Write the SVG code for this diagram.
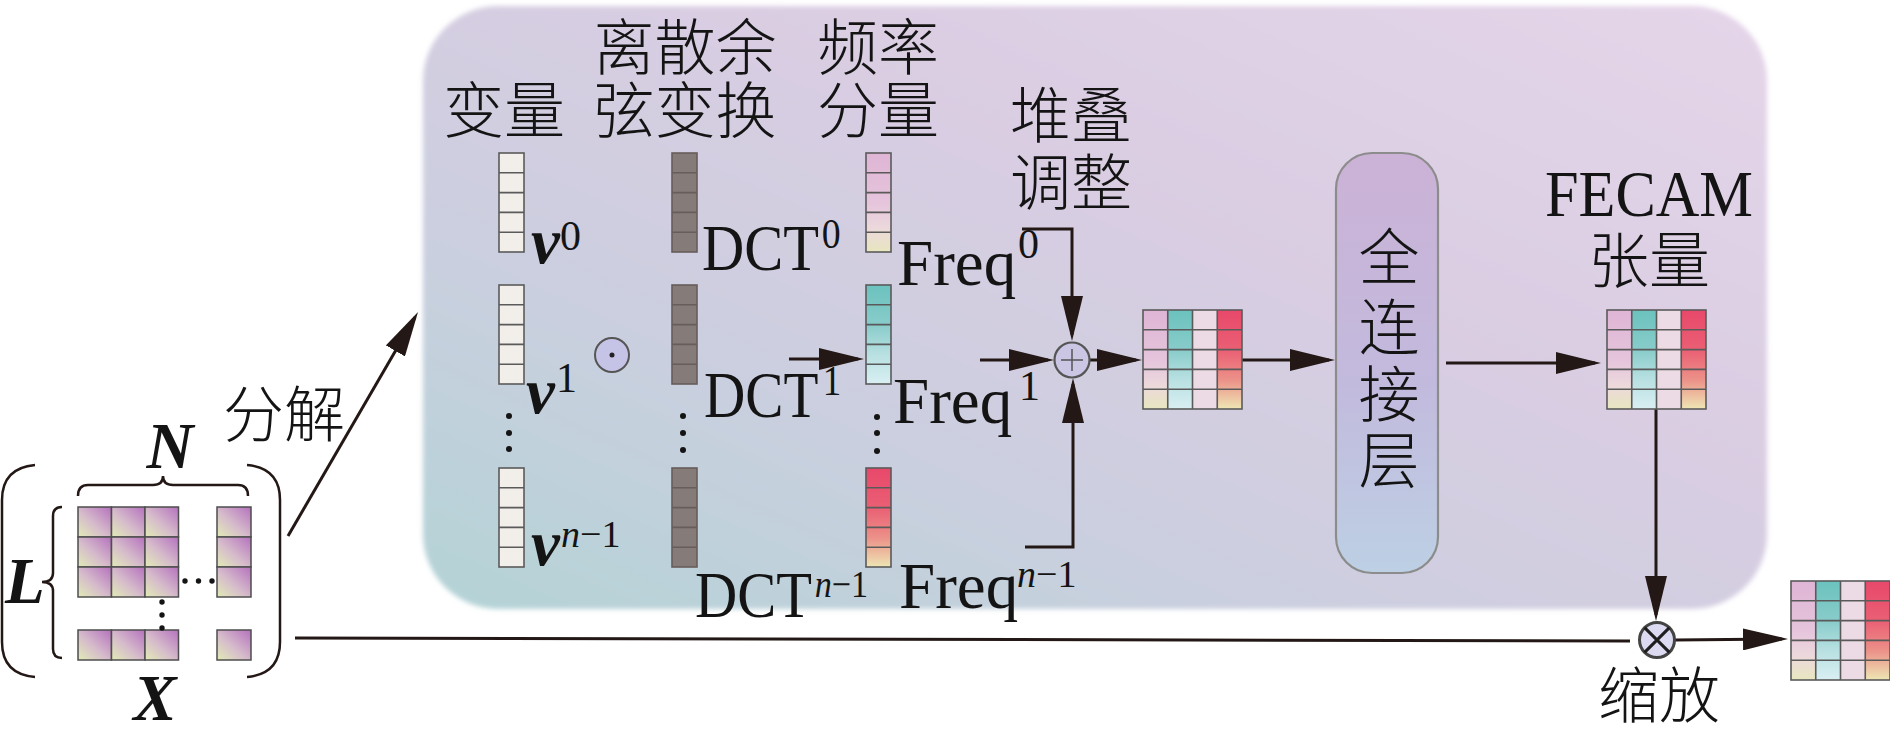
<svg xmlns="http://www.w3.org/2000/svg" width="1890" height="731" viewBox="0 0 1890 731">
<defs>
<style>
.cjk{font-family:"Noto Sans CJK SC","Noto Sans CJK TC",sans-serif;font-size:61px;font-weight:300;fill:#141414}
.lat{font-family:"Liberation Serif",serif;font-size:65px;fill:#141414}
.sup{font-size:42px}
.supn{font-size:38px}
.bi{font-weight:bold;font-style:italic}
.it{font-style:italic}
.con{fill:none;stroke:#231815;stroke-width:3}
.arr{marker-end:url(#ah)}
.cellv{fill:#f2eeea;stroke:#5a5a5a;stroke-width:1.6}
.celld{fill:#857b78;stroke:#675d5b;stroke-width:1.6}
.grid{fill:none;stroke:#5a5a5a;stroke-width:1.6}
.xc{fill:url(#gX);stroke:#4e4e4e;stroke-width:1.5}
.dot{fill:#141414}
.br{fill:none;stroke:#231815;stroke-width:2.5}
</style>
<linearGradient id="gPanel" x1="0" y1="1" x2="1" y2="0">
<stop offset="0" stop-color="#b3d3d6"/>
<stop offset="0.3" stop-color="#cacfdf"/>
<stop offset="0.6" stop-color="#d9cde2"/>
<stop offset="1" stop-color="#e5d5e9"/>
</linearGradient>
<linearGradient id="gFC" x1="0" y1="0" x2="0" y2="1">
<stop offset="0" stop-color="#cbb2d6"/>
<stop offset="0.55" stop-color="#c2badd"/>
<stop offset="1" stop-color="#bdd0e4"/>
</linearGradient>
<linearGradient id="gX" x1="0" y1="1" x2="1" y2="0">
<stop offset="0" stop-color="#e2ebb6"/>
<stop offset="0.45" stop-color="#d6bccb"/>
<stop offset="1" stop-color="#b571be"/>
</linearGradient>
<linearGradient id="gPink" x1="0" y1="0" x2="0" y2="1">
<stop offset="0" stop-color="#dfb5d5"/>
<stop offset="0.5" stop-color="#e5c4dc"/>
<stop offset="0.75" stop-color="#ecd8dc"/>
<stop offset="1" stop-color="#e8e6c0"/>
</linearGradient>
<linearGradient id="gTeal" x1="0" y1="0" x2="0" y2="1">
<stop offset="0" stop-color="#6bc2be"/>
<stop offset="0.4" stop-color="#88ccca"/>
<stop offset="0.7" stop-color="#b8e0e2"/>
<stop offset="1" stop-color="#d9eff2"/>
</linearGradient>
<linearGradient id="gRed" x1="0" y1="0" x2="0" y2="1">
<stop offset="0" stop-color="#e8486a"/>
<stop offset="0.4" stop-color="#ea5f74"/>
<stop offset="0.7" stop-color="#ec9088"/>
<stop offset="1" stop-color="#eee6b4"/>
</linearGradient>
<filter id="soft" x="-5%" y="-5%" width="110%" height="110%">
<feGaussianBlur stdDeviation="2.5"/>
</filter>
<marker id="ah" viewBox="0 0 45 22" refX="39" refY="11" markerWidth="45" markerHeight="22" markerUnits="userSpaceOnUse" orient="auto">
<path d="M0,0 L45,11 L0,22 z" fill="#231815"/>
</marker>
<g id="vcells">
<rect class="cellv" x="0" y="0" width="25" height="99"/>
<path class="grid" d="M0,19.8H25M0,39.6H25M0,59.4H25M0,79.2H25"/>
</g>
<g id="dcells">
<rect class="celld" x="0" y="0" width="25" height="99"/>
<path fill="none" stroke="#675d5b" stroke-width="1.6" d="M0,19.8H25M0,39.6H25M0,59.4H25M0,79.2H25"/>
</g>
<g id="mat">
<rect x="0" y="0" width="24.75" height="99" fill="url(#gPink)"/>
<rect x="24.75" y="0" width="24.75" height="99" fill="url(#gTeal)"/>
<rect x="49.5" y="0" width="24.75" height="99" fill="#ecdbe5"/>
<rect x="74.25" y="0" width="24.75" height="99" fill="url(#gRed)"/>
<rect class="grid" x="0" y="0" width="99" height="99"/>
<path class="grid" d="M24.75,0V99M49.5,0V99M74.25,0V99M0,19.8H99M0,39.6H99M0,59.4H99M0,79.2H99"/>
</g>
</defs>

<rect width="1890" height="731" fill="#ffffff"/>

<g id="panel">
<rect x="423" y="6" width="1344" height="603" rx="75" ry="75" fill="url(#gPanel)" filter="url(#soft)"/>
</g>

<g id="input-X">
<path class="br" d="M35,465 Q2,468 2,500 L2,642 Q2,674 35,677"/>
<path class="br" d="M247,465 Q280,468 280,500 L280,642 Q280,674 247,677"/>
<path class="br" d="M78,496 Q78,485 88,485 L153,485 Q163,485 163,476 Q163,485 173,485 L238,485 Q248,485 248,496"/>
<path class="br" d="M62,507 Q53,507 53,516 L53,573 Q53,582 42,582 Q53,582 53,591 L53,649 Q53,658 62,658"/>
<rect class="xc" x="78" y="507" width="33.5" height="30"/>
<rect class="xc" x="111.5" y="507" width="33.5" height="30"/>
<rect class="xc" x="145" y="507" width="33.5" height="30"/>
<rect class="xc" x="217" y="507" width="34" height="30"/>
<rect class="xc" x="78" y="537" width="33.5" height="30"/>
<rect class="xc" x="111.5" y="537" width="33.5" height="30"/>
<rect class="xc" x="145" y="537" width="33.5" height="30"/>
<rect class="xc" x="217" y="537" width="34" height="30"/>
<rect class="xc" x="78" y="567" width="33.5" height="30"/>
<rect class="xc" x="111.5" y="567" width="33.5" height="30"/>
<rect class="xc" x="145" y="567" width="33.5" height="30"/>
<rect class="xc" x="217" y="567" width="34" height="30"/>
<rect class="xc" x="78" y="630" width="33.5" height="30"/>
<rect class="xc" x="111.5" y="630" width="33.5" height="30"/>
<rect class="xc" x="145" y="630" width="33.5" height="30"/>
<rect class="xc" x="217" y="630" width="34" height="30"/>
<circle class="dot" cx="185" cy="581" r="2.7"/>
<circle class="dot" cx="198.5" cy="581" r="2.7"/>
<circle class="dot" cx="212" cy="581" r="2.7"/>
<circle class="dot" cx="162" cy="602" r="2.7"/>
<circle class="dot" cx="162" cy="615" r="2.7"/>
<circle class="dot" cx="162" cy="628" r="2.7"/>
<text class="lat bi" x="170" y="468" font-size="62" text-anchor="middle">N</text>
<text class="lat bi" x="5" y="603" font-size="58">L</text>
<text class="lat bi" x="155" y="720" font-size="60" text-anchor="middle">X</text>
</g>

<g id="label-fenjie">
<text class="cjk" x="284" y="437" text-anchor="middle">分解</text>
</g>

<g id="variables">
<text class="cjk" x="504" y="133" text-anchor="middle">变量</text>
<use href="#vcells" x="499" y="153"/>
<use href="#vcells" x="499" y="285"/>
<use href="#vcells" x="499" y="468"/>
<text class="lat" x="531" y="263"><tspan class="bi">v</tspan><tspan class="sup" x="560" y="250">0</tspan></text>
<text class="lat" x="526" y="413"><tspan class="bi">v</tspan><tspan class="sup" x="556" y="392">1</tspan></text>
<text class="lat" x="531" y="565"><tspan class="bi">v</tspan><tspan class="supn" x="561" y="547"><tspan class="it">n</tspan>−1</tspan></text>
<circle class="dot" cx="509" cy="416" r="3"/>
<circle class="dot" cx="509" cy="433" r="3"/>
<circle class="dot" cx="509" cy="449" r="3"/>
</g>

<g id="odot">
<circle cx="612" cy="355" r="17" fill="#c6c4e6" stroke="#555" stroke-width="2"/>
<circle cx="612" cy="355" r="2.5" fill="#222"/>
</g>

<g id="dct">
<text class="cjk" x="685" y="70" text-anchor="middle">离散余</text>
<text class="cjk" x="685" y="133" text-anchor="middle">弦变换</text>
<use href="#dcells" x="672" y="153"/>
<use href="#dcells" x="672" y="285"/>
<use href="#dcells" x="672" y="468"/>
<text class="lat" transform="translate(702 270) scale(0.9 1)" x="0" y="0">DCT<tspan class="sup" x="133" y="-22">0</tspan></text>
<text class="lat" transform="translate(704 417) scale(0.88 1)" x="0" y="0">DCT<tspan class="sup" x="135" y="-22">1</tspan></text>
<text class="lat" transform="translate(695 617) scale(0.9 1)" x="0" y="0">DCT<tspan class="supn" x="133" y="-20"><tspan class="it">n</tspan>−1</tspan></text>
<circle class="dot" cx="683" cy="416" r="3"/>
<circle class="dot" cx="683" cy="433" r="3"/>
<circle class="dot" cx="683" cy="450" r="3"/>
</g>

<g id="freq">
<text class="cjk" x="878" y="70" text-anchor="middle">频率</text>
<text class="cjk" x="878" y="133" text-anchor="middle">分量</text>
<rect x="866" y="153" width="25" height="99" fill="url(#gPink)"/>
<rect x="866" y="285" width="25" height="99" fill="url(#gTeal)"/>
<rect x="866" y="468" width="25" height="99" fill="url(#gRed)"/>
<g class="grid">
<rect x="866" y="153" width="25" height="99"/>
<path d="M866,172.8H891M866,192.6H891M866,212.4H891M866,232.2H891"/>
<rect x="866" y="285" width="25" height="99"/>
<path d="M866,304.8H891M866,324.6H891M866,344.4H891M866,364.2H891"/>
<rect x="866" y="468" width="25" height="99"/>
<path d="M866,487.8H891M866,507.6H891M866,527.4H891M866,547.2H891"/>
</g>
<text class="lat" x="897" y="285">Freq<tspan class="sup" x="1018" y="258">0</tspan></text>
<text class="lat" x="893" y="423">Freq<tspan class="sup" x="1019" y="400">1</tspan></text>
<text class="lat" x="899" y="608">Freq<tspan class="supn" x="1017" y="587"><tspan class="it">n</tspan>−1</tspan></text>
<circle class="dot" cx="877" cy="417" r="3"/>
<circle class="dot" cx="877" cy="433" r="3"/>
<circle class="dot" cx="877" cy="451" r="3"/>
</g>

<g id="stack">
<text class="cjk" x="1071" y="138" text-anchor="middle">堆叠</text>
<text class="cjk" x="1071" y="205" text-anchor="middle">调整</text>
</g>

<g id="connectors">
<path class="con arr" d="M288,536 L415,317.2"/>
<path class="con arr" d="M789,359 L858,359"/>
<path class="con arr" d="M980,360 L1048,360"/>
<path class="con arr" d="M1022,229 L1072,229 L1072,335"/>
<path class="con arr" d="M1025,547 L1073,547 L1073,384"/>
<path class="con arr" d="M1090,360 L1136,360"/>
<path class="con arr" d="M1242,360 L1329,360"/>
<path class="con arr" d="M1446,363 L1595,363"/>
<path class="con arr" d="M1656,408 L1656,615"/>
<path class="con" d="M295,638 L1630,641"/>
<path class="con arr" d="M1675,640 L1782,639"/>
</g>

<g id="oplus">
<circle cx="1072" cy="360" r="17.5" fill="#cac6e4" stroke="#555" stroke-width="2.2"/>
<path d="M1061,360H1083M1072,349V371" stroke="#555" stroke-width="1.5"/>
</g>

<g id="stacked-matrix">
<use href="#mat" x="1143" y="310"/>
</g>

<g id="fc-layer">
<rect x="1336" y="153" width="102" height="420" rx="36" ry="36" fill="url(#gFC)" stroke="#8c8c8c" stroke-width="2.2"/>
<text class="cjk" x="1389" y="280" text-anchor="middle">全</text>
<text class="cjk" x="1389" y="350" text-anchor="middle">连</text>
<text class="cjk" x="1389" y="417" text-anchor="middle">接</text>
<text class="cjk" x="1389" y="483" text-anchor="middle">层</text>
</g>

<g id="fecam">
<text class="lat" x="1649" y="216" font-size="66" text-anchor="middle" textLength="208" lengthAdjust="spacingAndGlyphs">FECAM</text>
<text class="cjk" x="1649" y="283" text-anchor="middle">张量</text>
<use href="#mat" x="1607" y="310"/>
</g>

<g id="otimes">
<circle cx="1657" cy="640" r="17.5" fill="#dcdaf0" stroke="#444" stroke-width="3"/>
<path d="M1644.6,627.6L1669.4,652.4M1669.4,627.6L1644.6,652.4" stroke="#1e1e1e" stroke-width="3"/>
<text class="cjk" x="1659" y="718" text-anchor="middle">缩放</text>
</g>

<g id="output">
<use href="#mat" x="1791" y="581"/>
</g>
</svg>
